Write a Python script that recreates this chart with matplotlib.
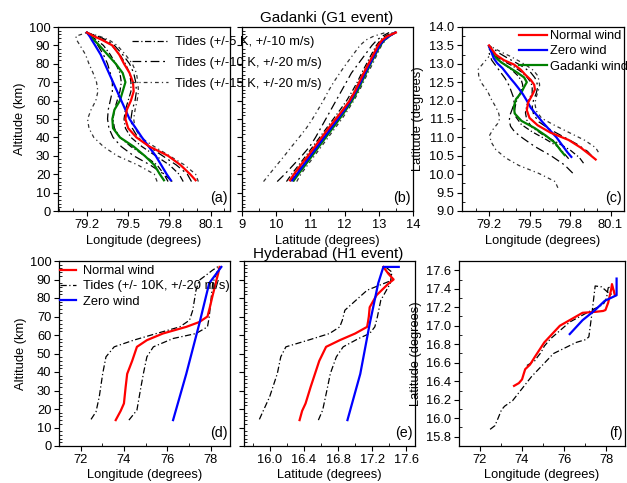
import matplotlib
matplotlib.use("Agg")
import matplotlib.pyplot as plt
from matplotlib.ticker import MultipleLocator, FormatStrFormatter
from matplotlib.lines import Line2D

plt.rcParams['font.family'] = ['Liberation Sans', 'DejaVu Sans']
FS = 9.3
plt.rcParams['font.size'] = FS

# ---------------- Gadanki (G1 event) ----------------
alt_g = [16.7, 20, 25, 30, 35, 40, 45, 50, 55, 60, 65, 70, 75, 80, 85, 90, 93, 95, 97]
red_lon_g = [79.99, 79.95, 79.88, 79.79, 79.655, 79.56, 79.5, 79.48, 79.49, 79.52, 79.54, 79.535,
             79.51, 79.47, 79.435, 79.385, 79.31, 79.25, 79.2]
red_lat_g = [10.4, 10.52, 10.72, 10.93, 11.13, 11.33, 11.53, 11.74, 11.95, 12.15, 12.3, 12.43,
             12.56, 12.7, 12.84, 12.98, 13.1, 13.25, 13.5]
blue_lon_g = [79.81, 79.78, 79.74, 79.7, 79.65, 79.6, 79.555, 79.51, 79.48, 79.45, 79.42, 79.39,
              79.36, 79.33, 79.3, 79.26, 79.235, 79.22, 79.2]
blue_lat_g = [10.47, 10.6, 10.8, 11.0, 11.2, 11.4, 11.6, 11.8, 12.0, 12.18, 12.33, 12.47,
              12.6, 12.74, 12.88, 13.02, 13.15, 13.3, 13.48]
green_lon_g = [79.76, 79.73, 79.69, 79.62, 79.54, 79.44, 79.39, 79.385, 79.4, 79.44, 79.46, 79.48,
               79.46, 79.41, 79.35, 79.29, 79.25, 79.225, 79.2]
green_lat_g = [10.52, 10.65, 10.85, 11.05, 11.25, 11.45, 11.65, 11.85, 12.04, 12.22, 12.37, 12.5,
               12.63, 12.76, 12.9, 13.04, 13.17, 13.3, 13.48]

alt_t = [16, 20, 25, 30, 35, 40, 45, 50, 55, 60, 65, 70, 75, 80, 85, 90, 93, 95, 97]
# minus-side tides
l5_lon = [79.79, 79.76, 79.71, 79.62, 79.52, 79.44, 79.4, 79.39, 79.4, 79.42, 79.44, 79.45,
          79.44, 79.41, 79.37, 79.32, 79.27, 79.23, 79.2]
l5_lat = [10.42, 10.55, 10.75, 10.95, 11.15, 11.35, 11.55, 11.75, 11.95, 12.13, 12.28, 12.42,
          12.55, 12.69, 12.83, 12.97, 13.1, 13.25, 13.45]
l10_lon = [79.82, 79.76, 79.66, 79.54, 79.45, 79.39, 79.36, 79.35, 79.355, 79.37, 79.385, 79.385,
           79.37, 79.35, 79.32, 79.28, 79.25, 79.22, 79.2]
l10_lat = [10.03, 10.25, 10.5, 10.75, 10.98, 11.15, 11.3, 11.45, 11.6, 11.75, 11.9, 12.05,
           12.2, 12.4, 12.6, 12.8, 12.95, 13.1, 13.3]
l15_lon = [79.71, 79.69, 79.57, 79.42, 79.32, 79.25, 79.215, 79.205, 79.23, 79.265, 79.28, 79.27,
           79.245, 79.215, 79.19, 79.15, 79.125, 79.12, 79.2]
l15_lat = [9.63, 9.8, 10.02, 10.24, 10.45, 10.67, 10.88, 11.06, 11.22, 11.38, 11.52, 11.68,
           11.86, 12.05, 12.25, 12.45, 12.63, 12.85, 13.2]
# plus-side tides
r5_lon = [79.9, 79.87, 79.8, 79.7, 79.6, 79.52, 79.48, 79.47, 79.48, 79.5, 79.52, 79.52,
          79.51, 79.48, 79.44, 79.38, 79.32, 79.26, 79.2]
r5_lat = [10.3, 10.45, 10.66, 10.87, 11.07, 11.27, 11.47, 11.67, 11.87, 12.06, 12.22, 12.37,
          12.5, 12.64, 12.78, 12.93, 13.05, 13.18, 13.4]
r10_lon = [79.96, 79.93, 79.85, 79.75, 79.65, 79.57, 79.53, 79.52, 79.53, 79.55, 79.56, 79.555,
           79.54, 79.51, 79.46, 79.4, 79.34, 79.28, 79.2]
r10_lat = [10.5, 10.62, 10.82, 11.02, 11.22, 11.42, 11.62, 11.83, 12.02, 12.2, 12.36, 12.49,
           12.62, 12.76, 12.9, 13.03, 13.15, 13.28, 13.5]
r15_lon = [80.01, 79.99, 79.91, 79.8, 79.69, 79.59, 79.55, 79.54, 79.55, 79.565, 79.575, 79.57,
           79.56, 79.53, 79.48, 79.42, 79.36, 79.29, 79.2]
r15_lat = [10.6, 10.72, 10.92, 11.12, 11.32, 11.52, 11.72, 11.92, 12.1, 12.27, 12.42, 12.55,
           12.68, 12.82, 12.95, 13.08, 13.2, 13.32, 13.5]

# ---------------- Hyderabad (H1 event) ----------------
alt_red_h = [14, 19, 23, 32, 39, 46, 53.6, 57.2, 60.8, 64.4, 67, 70, 75, 81.5, 87.8, 90, 93, 96.8]
red_lon_h = [73.62, 73.85, 74.0, 74.08, 74.15, 74.38, 74.6, 75.06, 75.8, 76.88, 77.48, 77.86,
             77.97, 78.1, 78.24, 78.28, 78.35, 78.42]
red_lat_h = [16.35, 16.38, 16.42, 16.48, 16.53, 16.58, 16.66, 16.82, 17.0, 17.14, 17.15, 17.16,
             17.17, 17.25, 17.39, 17.45, 17.39, 17.33]
alt_blue_h = [14, 39, 66, 88, 96.8, 96.8]
blue_lon_h = [76.27, 76.88, 77.48, 77.94, 78.5, 78.5]
blue_lat_h = [16.91, 17.06, 17.17, 17.27, 17.33, 17.51]
alt_tl_h = [14.4, 18.5, 26.6, 39.2, 48.2, 53.6, 57.2, 60.8, 64.4, 68, 73.4, 84.2, 89.6, 92.3, 95, 97]
tl_lon_h = [72.48, 72.71, 72.86, 73.02, 73.17, 73.55, 74.45, 75.5, 76.58, 77.03, 77.18, 77.33,
            77.48, 77.79, 78.09, 78.35]
tl_lat_h = [15.88, 15.92, 16.0, 16.09, 16.13, 16.19, 16.45, 16.7, 16.82, 16.85, 16.88, 17.14,
            17.43, 17.42, 17.36, 17.33]
alt_tr_h = [14, 19.4, 30.2, 39.2, 48.2, 53.6, 58.1, 60.8, 64.4, 69.8, 78.8, 87.8, 94, 97]
tr_lon_h = [74.23, 74.6, 74.76, 74.9, 75.06, 75.36, 76.27, 77.33, 77.86, 77.94, 78.02, 78.1, 78.3, 78.4]
tr_lat_h = [16.57, 16.62, 16.67, 16.71, 16.78, 16.86, 17.04, 17.17, 17.23, 17.26, 17.3, 17.41, 17.43, 17.35]

ls5 = (0, (5, 2, 1, 2))
ls10 = (0, (7, 3, 1.5, 3))
ls15 = (0, (3, 2.5, 1, 2.5))
TW = 0.9
cw = 1.6

W, H = 627, 483
fig = plt.figure(figsize=(W / 100, H / 100), dpi=100)


def rect(x0, x1, y0, y1):
    return [x0 / W, 1 - y1 / H, (x1 - x0) / W, (y1 - y0) / H]


axa = fig.add_axes(rect(58, 230, 27, 211))
axb = fig.add_axes(rect(242, 413, 27, 211))
axc = fig.add_axes(rect(462, 624, 27, 211))
axd = fig.add_axes(rect(59, 230, 261, 446))
axe = fig.add_axes(rect(244, 415, 261, 446))
axf = fig.add_axes(rect(459, 625, 261, 446))

for ax in (axa, axb, axc, axd, axe, axf):
    ax.tick_params(which='major', direction='out', length=3.5, width=0.8, labelsize=FS, pad=2)
    ax.tick_params(which='minor', direction='in', length=2.5, width=0.6)
    for s in ax.spines.values():
        s.set_linewidth(0.9)

# ---- top row
tides_top = [(l5_lon, l5_lat, ls5, 'k'), (r5_lon, r5_lat, ls5, 'k'),
             (l10_lon, l10_lat, ls10, 'k'), (r10_lon, r10_lat, ls10, 'k'),
             (l15_lon, l15_lat, ls15, '0.2'), (r15_lon, r15_lat, ls15, '0.2')]
for lo, la, ls, c in tides_top:
    axa.plot(lo, alt_t, ls=ls, color=c, lw=TW)
    axb.plot(la, alt_t, ls=ls, color=c, lw=TW)
    axc.plot(lo, la, ls=ls, color=c, lw=TW)
for lo, la, c in ((green_lon_g, green_lat_g, 'green'), (blue_lon_g, blue_lat_g, 'blue'),
                  (red_lon_g, red_lat_g, 'red')):
    axa.plot(lo, alt_g, color=c, lw=cw)
    axb.plot(la, alt_g, color=c, lw=cw)
axc.plot(green_lon_g, green_lat_g, color='green', lw=cw)
axc.plot(blue_lon_g, blue_lat_g, color='blue', lw=cw)
axc.plot(red_lon_g, red_lat_g, color='red', lw=cw)

hs = [Line2D([], [], color='k', ls=ls5, lw=TW), Line2D([], [], color='k', ls=ls10, lw=TW),
      Line2D([], [], color='0.2', ls=ls15, lw=TW)]
fig.legend(hs, ['Tides (+/-5 K, +/-10 m/s)', 'Tides (+/-10 K, +/-20 m/s)', 'Tides (+/-15 K, +/-20 m/s)'],
           loc='upper left', bbox_to_anchor=(132 / W, 1 - 36 / H), frameon=False,
           handlelength=2.8, handletextpad=0.55, labelspacing=0.68, borderpad=0, borderaxespad=0,
           fontsize=FS)
hc = [Line2D([], [], color='red', lw=cw), Line2D([], [], color='blue', lw=cw),
      Line2D([], [], color='green', lw=cw)]
fig.legend(hc, ['Normal wind', 'Zero wind', 'Gadanki wind'],
           loc='upper left', bbox_to_anchor=(519 / W, 1 - 30 / H), frameon=False,
           handlelength=2.2, handletextpad=0.2, labelspacing=0.25, borderpad=0, borderaxespad=0,
           fontsize=FS)

axa.set_xlim(78.99, 80.24)
axa.set_ylim(0, 100)
axa.set_xticks([79.2, 79.5, 79.8, 80.1])
axa.xaxis.set_minor_locator(MultipleLocator(0.1))
axa.yaxis.set_major_locator(MultipleLocator(10))
axa.yaxis.set_minor_locator(MultipleLocator(2))
axa.set_xlabel('Longitude (degrees)', labelpad=3)
axa.set_ylabel('Altitude (km)', labelpad=2)

axb.set_xlim(9, 14)
axb.set_ylim(0, 100)
axb.xaxis.set_major_locator(MultipleLocator(1))
axb.xaxis.set_minor_locator(MultipleLocator(0.5))
axb.yaxis.set_major_locator(MultipleLocator(10))
axb.yaxis.set_minor_locator(MultipleLocator(2))
axb.set_yticklabels([])
axb.set_xlabel('Latitude (degrees)', labelpad=3)

axc.set_xlim(79.0, 80.2)
axc.set_ylim(9, 14)
axc.set_xticks([79.2, 79.5, 79.8, 80.1])
axc.xaxis.set_minor_locator(MultipleLocator(0.1))
axc.yaxis.set_major_locator(MultipleLocator(0.5))
axc.yaxis.set_minor_locator(MultipleLocator(0.25))
axc.yaxis.set_major_formatter(FormatStrFormatter('%.1f'))
axc.set_xlabel('Longitude (degrees)', labelpad=3)
axc.set_ylabel('Latitude (degrees)', labelpad=4)

# ---- bottom row
for lo, la, al in ((tl_lon_h, tl_lat_h, alt_tl_h), (tr_lon_h, tr_lat_h, alt_tr_h)):
    axd.plot(lo, al, color='k', ls=ls5, lw=TW)
    axe.plot(la, al, color='k', ls=ls5, lw=TW)
    axf.plot(lo, la, color='k', ls=ls5, lw=TW)
for lo, la, al, c in ((red_lon_h, red_lat_h, alt_red_h, 'red'), (blue_lon_h, blue_lat_h, alt_blue_h, 'blue')):
    axd.plot(lo, al, color=c, lw=cw)
    axe.plot(la, al, color=c, lw=cw)
    axf.plot(lo, la, color=c, lw=cw)

hd = [Line2D([], [], color='red', lw=cw), Line2D([], [], color='k', ls=ls5, lw=TW),
      Line2D([], [], color='blue', lw=cw)]
fig.legend(hd, ['Normal wind', 'Tides (+/- 10K, +/-20 m/s)', 'Zero wind'],
           loc='upper left', bbox_to_anchor=(60 / W, 1 - 265 / H), frameon=False,
           handlelength=1.25, handletextpad=0.55, labelspacing=0.25, borderpad=0, borderaxespad=0,
           fontsize=FS)

axd.set_xlim(71.0, 78.9)
axd.set_ylim(0, 100)
axd.xaxis.set_major_locator(MultipleLocator(2))
axd.xaxis.set_minor_locator(MultipleLocator(1))
axd.yaxis.set_major_locator(MultipleLocator(10))
axd.yaxis.set_minor_locator(MultipleLocator(2))
axd.set_xlabel('Longitude (degrees)', labelpad=2.5)
axd.set_ylabel('Altitude (km)', labelpad=2)

axe.set_xlim(15.7, 17.7)
axe.set_ylim(0, 100)
axe.set_xticks([16.0, 16.4, 16.8, 17.2, 17.6])
axe.xaxis.set_minor_locator(MultipleLocator(0.2))
axe.yaxis.set_major_locator(MultipleLocator(10))
axe.yaxis.set_minor_locator(MultipleLocator(2))
axe.set_yticklabels([])
axe.set_xlabel('Latitude (degrees)', labelpad=2.5)

axf.set_xlim(71.0, 78.9)
axf.set_ylim(15.7, 17.7)
axf.xaxis.set_major_locator(MultipleLocator(2))
axf.xaxis.set_minor_locator(MultipleLocator(1))
axf.yaxis.set_major_locator(MultipleLocator(0.2))
axf.yaxis.set_minor_locator(MultipleLocator(0.1))
axf.yaxis.set_major_formatter(FormatStrFormatter('%.1f'))
axf.set_xlabel('Longitude (degrees)', labelpad=2.5)
axf.set_ylabel('Latitude (degrees)', labelpad=3)

for ax, lab in ((axa, '(a)'), (axb, '(b)'), (axc, '(c)'), (axd, '(d)'), (axe, '(e)'), (axf, '(f)')):
    ax.text(0.985, 0.03, lab, transform=ax.transAxes, ha='right', va='bottom', fontsize=FS + 1)

fig.text(327 / W, 1 - 18 / H, 'Gadanki (G1 event)', ha='center', va='center', fontsize=11)
fig.text(328 / W, 1 - 254 / H, 'Hyderabad (H1 event)', ha='center', va='center', fontsize=11)

fig.savefig('out.png', dpi=100)
